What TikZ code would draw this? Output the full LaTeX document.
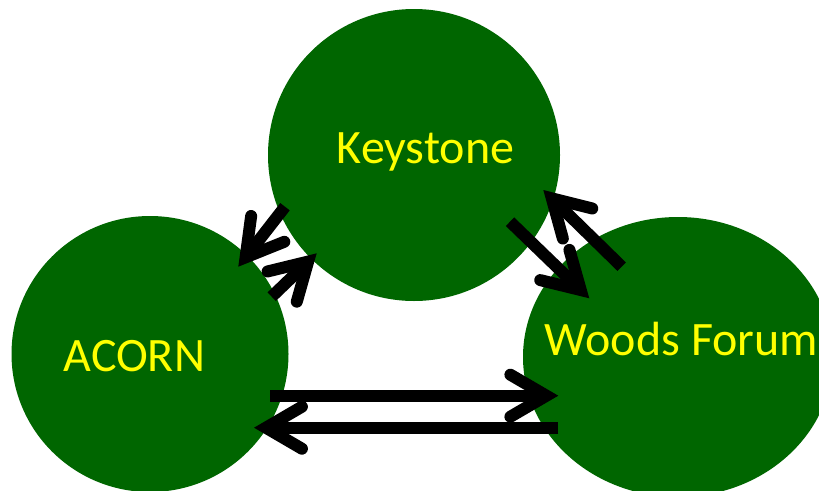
\documentclass[tikz,border=0pt]{standalone}
\usepackage{fontspec}
\setmainfont{Carlito}
\usetikzlibrary{arrows.meta,shapes.geometric}
\definecolor{dgreen}{RGB}{0,102,0}
\definecolor{ytext}{RGB}{255,255,0}
\tikzset{
  blob/.style={ellipse,fill=dgreen,draw=none,inner sep=0pt},
  lbl/.style={text=ytext,font=\fontsize{48}{52}\selectfont,inner sep=0pt,anchor=base},
  link/.style={line width=12pt,line cap=butt,
    -{Straight Barb[length=36pt,width=42pt,line cap=round,line join=miter]}}
}
\begin{document}
\begin{tikzpicture}[x=1pt,y=-1pt]
\useasboundingbox (0,0) rectangle (819,490);
\clip (0,0) rectangle (819,490);
\node[blob,minimum width=292pt,minimum height=292pt] (kc) at (414,155) {};
\node[blob,minimum width=277pt,minimum height=276pt] (ac) at (150,354) {};
\node[blob,minimum width=310pt,minimum height=280pt] (wc) at (678,357) {};
\node[lbl] (kt) at (425.5,163) {Keystone};
\node[lbl] (at) at (134.3,371.7) {ACORN};
\node[lbl] (wt) at (681.5,355) {Woods Forum};
% arrow end points
\coordinate (ka1) at (285,206.7);   \coordinate (ka2) at (238.3,266.7);
\coordinate (ak1) at (271.7,296.7); \coordinate (ak2) at (316.7,253.3);
\coordinate (kw1) at (510,221.7);   \coordinate (kw2) at (589.3,298.3);
\coordinate (wk1) at (621.7,266.7); \coordinate (wk2) at (543.3,190);
\coordinate (aw1) at (270,395.7);   \coordinate (aw2) at (558.3,395.7);
\coordinate (wa1) at (558.3,427.7); \coordinate (wa2) at (254,427.7);
\draw[link] (ka1) -- (ka2);
\draw[link] (ak1) -- (ak2);
\draw[link] (kw1) -- (kw2);
\draw[link] (wk1) -- (wk2);
\draw[link] (aw1) -- (aw2);
\draw[link] (wa1) -- (wa2);
\end{tikzpicture}
\end{document}
